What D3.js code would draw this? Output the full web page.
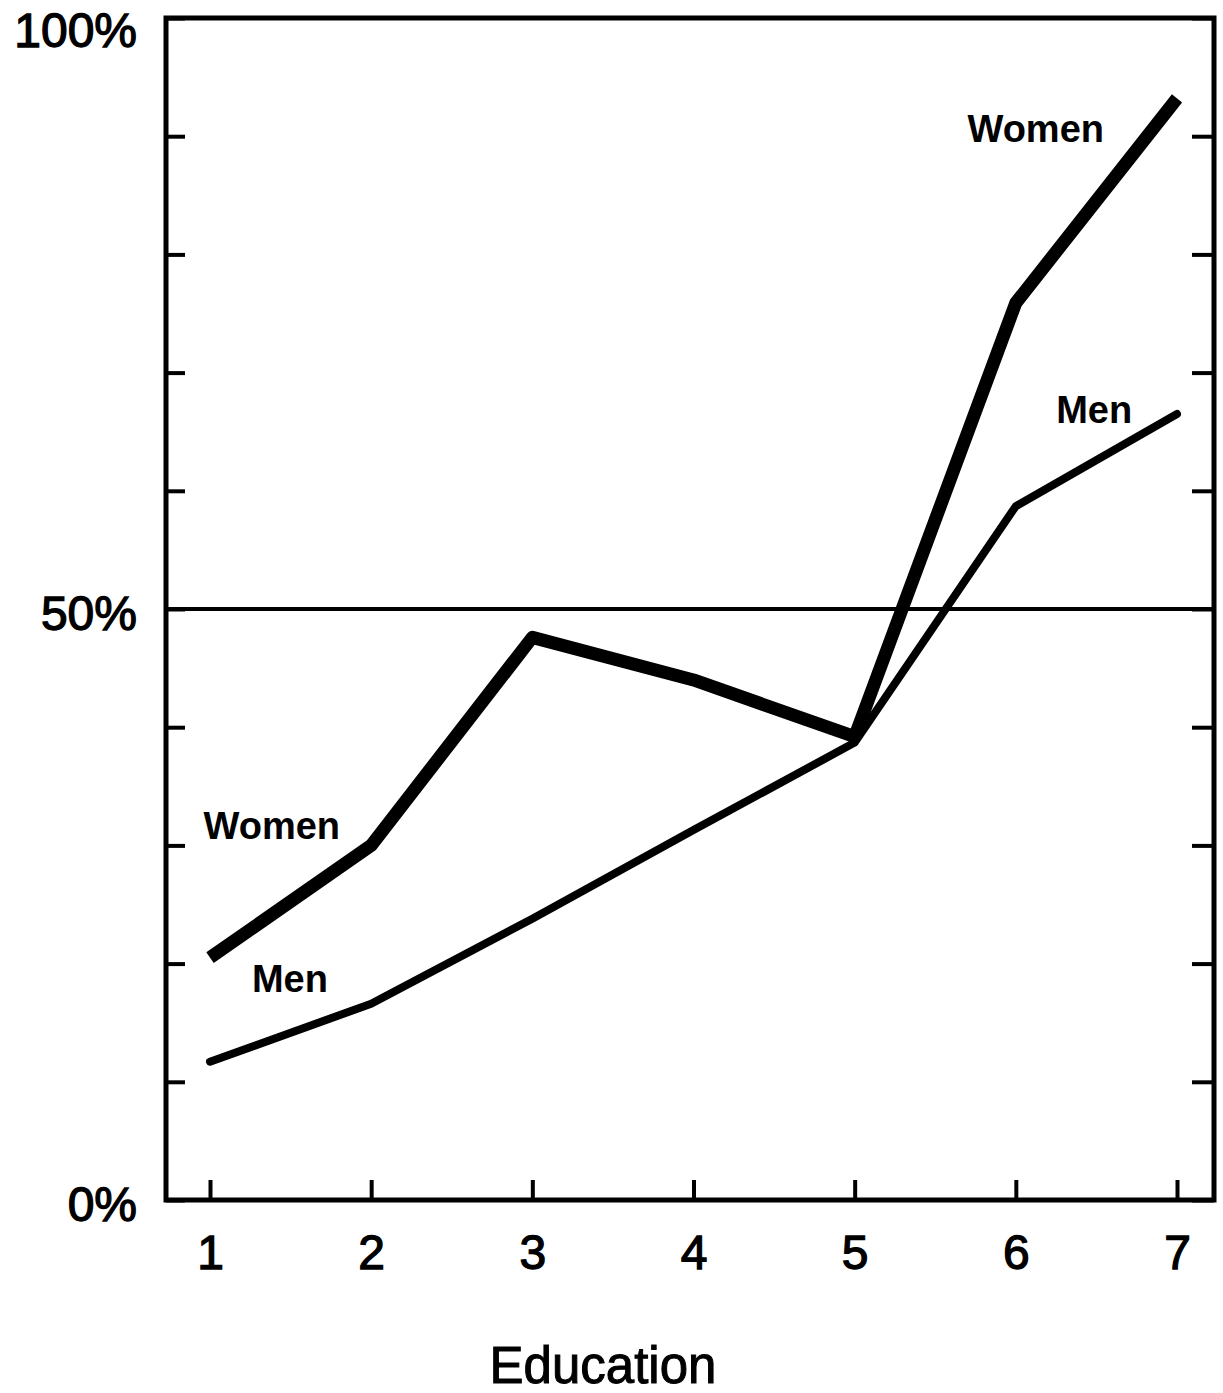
<!DOCTYPE html>
<html>
<head>
<meta charset="utf-8">
<script src="https://cdn.jsdelivr.net/npm/d3@7"></script>
<style>
  body { margin: 0; background: #fff; }
  svg { display: block; }
</style>
</head>
<body>
<div id="chart"></div>
<script>
// education levels on the x axis
const education = [1, 2, 3, 4, 5, 6, 7];
// share in percent
const women = [20.5, 30, 47.6, 44, 39.2, 75.9, 93.2];
const men = [11.7, 16.6, 23.8, 31.3, 38.7, 58.7, 66.5];
const yTicks = [0, 10, 20, 30, 40, 50, 60, 70, 80, 90, 100];
const yLabelled = [0, 50, 100];
const seriesLabels = [
  { text: 'Women', x: 0.96, y: 30.5 },
  { text: 'Men', x: 1.26, y: 17.6 },
  { text: 'Women', x: 5.7, y: 89.5 },
  { text: 'Men', x: 6.25, y: 65.7 }
];

const fontFamily = '"Liberation Sans", Arial, Helvetica, sans-serif';

const margin = { top: 18, right: 9, bottom: 193, left: 166 };
const width = 1223 - margin.left - margin.right;
const height = 1393 - margin.top - margin.bottom;

const svg = d3.select('#chart')
  .append('svg')
  .attr('width', 1223)
  .attr('height', 1393);

const g = svg.append('g')
  .attr('transform', 'translate(' + margin.left + ',' + margin.top + ')');

const x = d3.scaleLinear().domain([1, 7]).range([44, 1011]);
const y = d3.scaleLinear().domain([0, 100]).range([height, 0]);

// left axis, ticks point inwards
const yAxis = g.append('g')
  .attr('class', 'axis axis-y')
  .call(d3.axisLeft(y)
    .tickValues(yTicks)
    .tickSize(-19)
    .tickPadding(29)
    .tickFormat((d) => { return yLabelled.includes(d) ? d + '%' : ''; }));
yAxis.select('.domain').remove();
yAxis.selectAll('line').attr('stroke', '#000').attr('stroke-width', 4);
yAxis.selectAll('text')
  .attr('dy', (d) => { return d === 100 ? '0.6em' : '0.42em'; })
  .style('font-size', '48px')
  .style('font-family', fontFamily)
  .attr('fill', '#000')
  .attr('stroke', '#000')
  .attr('stroke-width', 1.3);

// right side ticks
const yRight = g.append('g')
  .attr('class', 'axis axis-y-right')
  .attr('transform', 'translate(' + width + ',0)')
  .call(d3.axisRight(y)
    .tickValues(yTicks)
    .tickSize(-22)
    .tickFormat(''));
yRight.select('.domain').remove();
yRight.selectAll('line').attr('stroke', '#000').attr('stroke-width', 4);

// bottom axis
const xAxis = g.append('g')
  .attr('class', 'axis axis-x')
  .attr('transform', 'translate(0,' + height + ')')
  .call(d3.axisBottom(x)
    .tickValues(education)
    .tickSize(-20)
    .tickPadding(35)
    .tickFormat(d3.format('d')));
xAxis.select('.domain').remove();
xAxis.selectAll('line').attr('stroke', '#000').attr('stroke-width', 4);
xAxis.selectAll('text')
  .style('font-size', '48px')
  .style('font-family', fontFamily)
  .attr('fill', '#000')
  .attr('stroke', '#000')
  .attr('stroke-width', 1.3);

// frame
g.append('rect')
  .attr('x', 0)
  .attr('y', 0)
  .attr('width', width)
  .attr('height', height)
  .attr('fill', 'none')
  .attr('stroke', '#000')
  .attr('stroke-width', 5);

// 50% reference line
g.append('line')
  .attr('x1', 0)
  .attr('x2', width)
  .attr('y1', y(50))
  .attr('y2', y(50))
  .attr('stroke', '#000')
  .attr('stroke-width', 4);

const line = d3.line()
  .x((d, i) => { return x(education[i]); })
  .y((d) => { return y(d); });

g.append('path')
  .datum(men)
  .attr('d', line)
  .attr('fill', 'none')
  .attr('stroke', '#000')
  .attr('stroke-width', 8)
  .attr('stroke-linejoin', 'round')
  .attr('stroke-linecap', 'round');

g.append('path')
  .datum(women)
  .attr('d', line)
  .attr('fill', 'none')
  .attr('stroke', '#000')
  .attr('stroke-width', 13)
  .attr('stroke-linejoin', 'round')
  .attr('stroke-linecap', 'butt');

g.selectAll('.series-label')
  .data(seriesLabels)
  .enter()
  .append('text')
  .attr('class', 'series-label')
  .attr('x', (d) => { return x(d.x); })
  .attr('y', (d) => { return y(d.y); })
  .text((d) => { return d.text; })
  .style('font-size', '38px')
  .style('font-weight', 'bold')
  .style('font-family', fontFamily);

// axis title
svg.append('text')
  .attr('x', 603)
  .attr('y', 1383)
  .attr('text-anchor', 'middle')
  .text('Education')
  .style('font-size', '51px')
  .style('font-family', fontFamily)
  .attr('stroke', '#000')
  .attr('stroke-width', 1);
</script>
</body>
</html>
